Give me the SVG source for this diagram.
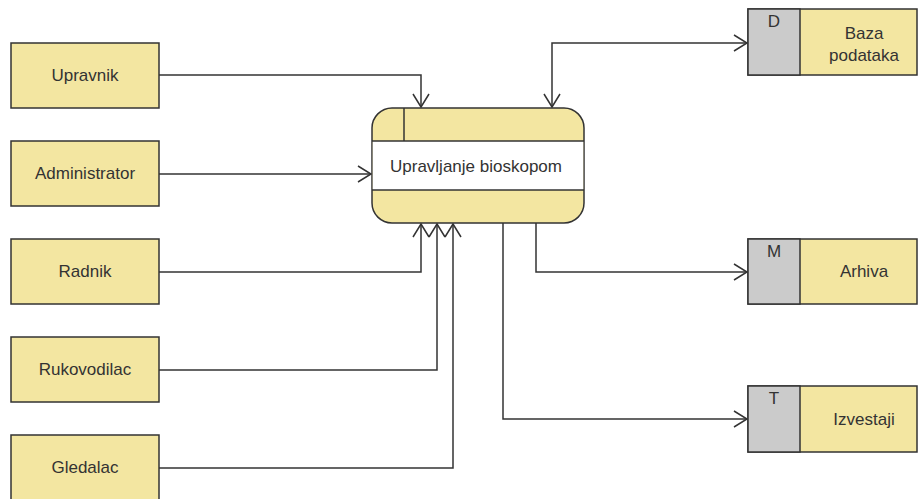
<svg xmlns="http://www.w3.org/2000/svg" width="919" height="499" viewBox="0 0 919 499">
<style>
.ent{fill:#F3E6A1;stroke:#333;stroke-width:1.5}
.gray{fill:#CBCBCB;stroke:#333;stroke-width:1.5}
.ln{fill:none;stroke:#333;stroke-width:1.5}
.t{font-family:"Liberation Sans",Arial,sans-serif;font-size:17px;fill:#333;text-anchor:middle}
.c{fill:none;stroke:#333;stroke-width:1.5}
</style>
<defs>
<marker id="ah" markerUnits="userSpaceOnUse" viewBox="-14 -10 16 20" refX="0" refY="0" markerWidth="16" markerHeight="20" orient="auto-start-reverse">
<path d="M-13,-8 L0,0 L-13,8" fill="none" stroke="#333" stroke-width="1.5"/>
</marker>
</defs>
<rect width="919" height="499" fill="#fff"/>
<g id="connectors">
<path class="c" d="M159,75 H421 V107" marker-end="url(#ah)"/>
<path class="c" d="M159,174 H371" marker-end="url(#ah)"/>
<path class="c" d="M159,272 H421 V224" marker-end="url(#ah)"/>
<path class="c" d="M159,370 H437 V224" marker-end="url(#ah)"/>
<path class="c" d="M159,468 H453 V224" marker-end="url(#ah)"/>
<path class="c" d="M552,107 V43 H747" marker-start="url(#ah)" marker-end="url(#ah)"/>
<path class="c" d="M536,223 V272 H747" marker-end="url(#ah)"/>
<path class="c" d="M503,223 V419 H747" marker-end="url(#ah)"/>
</g>
<g id="upravnik"><rect class="ent" x="11" y="43" width="148" height="65"/><text class="t" x="85" y="81">Upravnik</text></g>
<g id="administrator"><rect class="ent" x="11" y="141" width="148" height="65"/><text class="t" x="85" y="179">Administrator</text></g>
<g id="radnik"><rect class="ent" x="11" y="239" width="148" height="65"/><text class="t" x="85" y="277">Radnik</text></g>
<g id="rukovodilac"><rect class="ent" x="11" y="337" width="148" height="65"/><text class="t" x="85" y="375">Rukovodilac</text></g>
<g id="gledalac"><rect class="ent" x="11" y="435" width="148" height="65"/><text class="t" x="85" y="473">Gledalac</text></g>
<g id="process">
<rect class="ent" x="372" y="108" width="212" height="115" rx="20" ry="20"/>
<rect x="372.75" y="141" width="210.5" height="49" fill="#fff"/>
<line class="ln" x1="372" y1="141" x2="584" y2="141"/>
<line class="ln" x1="372" y1="190" x2="584" y2="190"/>
<line class="ln" x1="404" y1="108" x2="404" y2="141"/>
<text class="t" x="476" y="172">Upravljanje bioskopom</text>
</g>
<g id="baza">
<rect class="ent" x="748" y="9" width="169" height="66"/>
<rect class="gray" x="748" y="9" width="52" height="66"/>
<text class="t" x="774" y="27">D</text>
<text class="t" x="864" y="39">Baza</text>
<text class="t" x="864" y="61">podataka</text>
</g>
<g id="arhiva">
<rect class="ent" x="748" y="239" width="169" height="65"/>
<rect class="gray" x="748" y="239" width="52" height="65"/>
<text class="t" x="774" y="257">M</text>
<text class="t" x="864" y="277">Arhiva</text>
</g>
<g id="izvestaji">
<rect class="ent" x="748" y="386" width="169" height="66"/>
<rect class="gray" x="748" y="386" width="52" height="66"/>
<text class="t" x="774" y="404">T</text>
<text class="t" x="864" y="425">Izvestaji</text>
</g>
</svg>
